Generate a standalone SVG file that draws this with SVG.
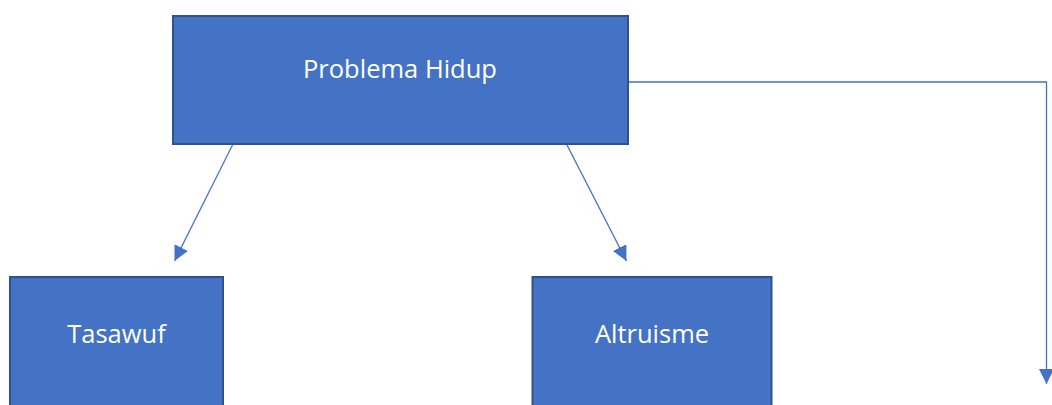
<svg xmlns="http://www.w3.org/2000/svg" width="1052" height="405" viewBox="0 0 1052 405">
<style>
.box{fill:#4472C4;stroke:#2F528F;stroke-width:2}
.lbl{fill:#FFFFFF;font-family:"Open Sans","Liberation Sans",sans-serif;font-size:25.5px;text-anchor:middle}
.conn{fill:none;stroke:#4472C4;stroke-width:1.3}
</style>
<defs>
<marker id="ah" markerUnits="userSpaceOnUse" markerWidth="16" markerHeight="16" refX="15" refY="7.5" orient="auto">
<path d="M0,0 L15,7.5 L0,15 Z" fill="#4472C4"/>
</marker>
</defs>
<rect x="0" y="0" width="1052" height="405" fill="#FFFFFF"/>
<g id="connectors">
<line class="conn" x1="232.5" y1="145" x2="174.5" y2="261" marker-end="url(#ah)"/>
<line class="conn" x1="567" y1="145" x2="626.5" y2="261" marker-end="url(#ah)"/>
<polyline class="conn" points="628,82 1046.5,82 1046.5,384" marker-end="url(#ah)"/>
</g>
<g id="node-problema">
<rect class="box" x="173" y="16" width="455" height="128"/>
<text class="lbl" x="400" y="78">Problema Hidup</text>
</g>
<g id="node-tasawuf">
<rect class="box" x="10" y="277" width="213" height="140"/>
<text class="lbl" x="116.5" y="343">Tasawuf</text>
</g>
<g id="node-altruisme">
<rect class="box" x="532.5" y="277" width="239" height="140"/>
<text class="lbl" x="652" y="343">Altruisme</text>
</g>
</svg>
